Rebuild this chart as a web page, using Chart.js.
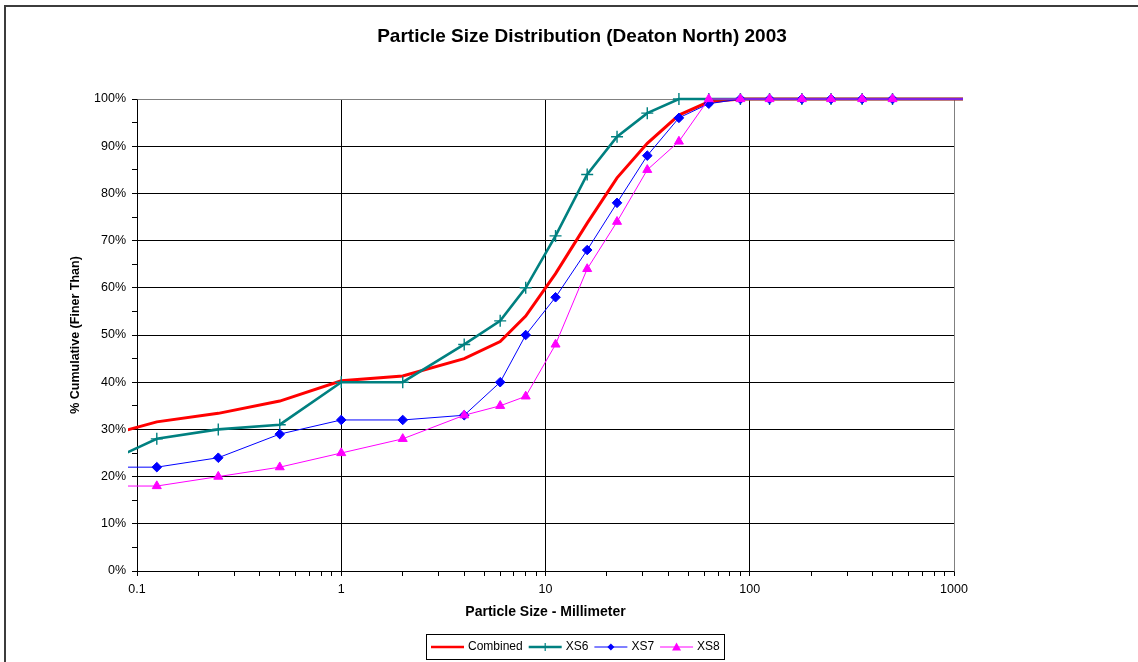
<!DOCTYPE html>
<html>
<head>
<meta charset="utf-8">
<script src="https://cdn.jsdelivr.net/npm/chart.js@4.4.1/dist/chart.umd.min.js"></script>
<style>
  html, body { margin: 0; padding: 0; background: #fff; overflow: hidden; width: 1138px; height: 662px; }
  #frame { position: absolute; left: 4px; top: 5px; width: 1142px; height: 670px;
           border-left: 2px solid #3c3c3c; border-top: 2px solid #3c3c3c; background: #fff; }
  canvas { display: block; }
</style>
</head>
<body>
<div id="frame"><canvas id="psd" width="1142" height="670"></canvas></div>
<script>
// Sieve sizes (mm) and cumulative percent finer for each sample
const sieveSizes = [0.0625, 0.125, 0.25, 0.5, 1, 2, 4, 6, 8, 11.2, 16, 22.4, 31.5, 45, 63, 90, 125, 180, 250, 355, 500, 2000];
const combined   = [28, 31.6, 33.4, 36, 40.3, 41.3, 45, 48.6, 54, 63, 73.7, 83.3, 90.6, 96.6, 99.4, 100, 100, 100, 100, 100, 100, 100];
const xs6        = [22, 28, 30, 31, 40, 40, 48, 53, 60, 71, 84, 92, 97, 100, 100, 100, 100, 100, 100, 100, 100, 100];
const xs7        = [22, 22, 24, 29, 32, 32, 33, 40, 50, 58, 68, 78, 88, 96, 99, 100, 100, 100, 100, 100, 100, 100];
const xs8        = [18, 18, 20, 22, 25, 28, 33, 35, 37, 48, 64, 74, 85, 91, 100, 100, 100, 100, 100, 100, 100, 100];

const seriesNames = ['Combined', 'XS6', 'XS7', 'XS8'];
const xTickLabels = ['0.1', '1', '10', '100', '1000'];
const yTickLabels = ['0%', '10%', '20%', '30%', '40%', '50%', '60%', '70%', '80%', '90%', '100%'];

const chartTitle = 'Particle Size Distribution (Deaton North) 2003';
const xTitle = 'Particle Size - Millimeter';
const yTitle = '% Cumulative (Finer Than)';

const FONT = '"Liberation Sans", Arial, Helvetica, sans-serif';
Chart.defaults.font.family = FONT;
Chart.defaults.color = '#000';

const toPoints = vals => sieveSizes.map((s, i) => ({ x: s, y: vals[i] }));
const isDecade = v => Math.abs(Math.log10(v) - Math.round(Math.log10(v))) < 1e-9;
const lineClip = { left: 9, right: 9, top: 8, bottom: 0 };

const datasets = [
  { label: seriesNames[0], data: toPoints(combined), borderColor: '#ff0000', backgroundColor: '#ff0000',
    borderWidth: 3, pointRadius: 0, order: 3, marker: 'none' },
  { label: seriesNames[1], data: toPoints(xs6), borderColor: '#008080', backgroundColor: '#008080',
    borderWidth: 2.6, pointStyle: 'cross', pointRadius: 6, pointBorderWidth: 1.4, order: 2, marker: 'cross' },
  { label: seriesNames[2], data: toPoints(xs7), borderColor: '#0000ff', backgroundColor: '#0000ff',
    borderWidth: 1, pointStyle: 'rectRot', pointRadius: 4.8, pointBorderWidth: 1, order: 1, marker: 'diamond' },
  { label: seriesNames[3], data: toPoints(xs8), borderColor: '#ff00ff', backgroundColor: '#ff00ff',
    borderWidth: 1, pointStyle: 'triangle', pointRadius: 5.2, pointBorderWidth: 1, order: 0, marker: 'triangle' }
];
datasets.forEach(d => { d.clip = lineClip; d.tension = 0; d.fill = false; d.pointHoverRadius = d.pointRadius; });

// small marker glyphs used in the legend samples
function drawMarker(ctx, kind, x, y, color) {
  ctx.save();
  ctx.fillStyle = color; ctx.strokeStyle = color; ctx.lineWidth = 1.2;
  ctx.beginPath();
  if (kind === 'cross') {
    ctx.moveTo(x - 4, y); ctx.lineTo(x + 4, y);
    ctx.moveTo(x, y - 4); ctx.lineTo(x, y + 4);
    ctx.stroke();
  } else if (kind === 'diamond') {
    ctx.moveTo(x, y - 3.5); ctx.lineTo(x + 3.5, y); ctx.lineTo(x, y + 3.5); ctx.lineTo(x - 3.5, y);
    ctx.closePath(); ctx.fill();
  } else if (kind === 'triangle') {
    ctx.moveTo(x, y - 4.5); ctx.lineTo(x + 4.5, y + 3.5); ctx.lineTo(x - 4.5, y + 3.5);
    ctx.closePath(); ctx.fill();
  }
  ctx.restore();
}

const decor = {
  id: 'decor',
  beforeDatasetsDraw(chart) {
    // grey plot-area frame on top and right
    const { ctx, chartArea: a } = chart;
    ctx.save();
    ctx.strokeStyle = '#808080';
    ctx.lineWidth = 1;
    ctx.beginPath();
    ctx.moveTo(Math.round(a.left) + 0.5, Math.round(a.top) + 0.5);
    ctx.lineTo(Math.round(a.right) + 0.5, Math.round(a.top) + 0.5);
    ctx.lineTo(Math.round(a.right) + 0.5, Math.round(a.bottom) + 0.5);
    ctx.stroke();
    ctx.restore();
  },
  afterDraw(chart, args, opts) {
    const { ctx } = chart;
    // title
    ctx.save();
    ctx.font = 'bold 19px ' + FONT;
    ctx.fillStyle = '#000';
    ctx.textAlign = 'center';
    ctx.textBaseline = 'middle';
    ctx.fillText(chartTitle, opts.titleX, opts.titleY);
    ctx.restore();

    // legend box with line + marker samples
    ctx.save();
    ctx.font = '12px ' + FONT;
    const sample = 33, gapText = 4, gapItem = 6, padL = 5, padR = 4;
    const ds = chart.data.datasets;
    const widths = ds.map(d => ctx.measureText(d.label).width);
    let total = padL + padR + gapItem * (ds.length - 1);
    widths.forEach(w => { total += sample + gapText + w; });
    const left = Math.round(opts.legendX - total / 2);
    const top = opts.legendY, h = opts.legendH;
    ctx.strokeStyle = '#000';
    ctx.lineWidth = 1;
    ctx.strokeRect(left + 0.5, top + 0.5, Math.round(total), h);
    const cy = top + h / 2 + 0.5;
    let x = left + padL;
    ds.forEach((d, i) => {
      ctx.strokeStyle = d.borderColor;
      ctx.lineWidth = Math.min(d.borderWidth, 2.5);
      ctx.beginPath();
      ctx.moveTo(x, cy); ctx.lineTo(x + sample, cy);
      ctx.stroke();
      drawMarker(ctx, d.marker, x + sample / 2, cy, d.borderColor);
      x += sample + gapText;
      ctx.fillStyle = '#000';
      ctx.textAlign = 'left';
      ctx.textBaseline = 'middle';
      ctx.fillText(d.label, x, cy);
      x += widths[i] + gapItem;
    });
    ctx.restore();
  }
};

new Chart(document.getElementById('psd'), {
  type: 'line',
  data: { datasets },
  plugins: [decor],
  options: {
    responsive: false,
    animation: false,
    events: [],
    layout: { padding: { left: 0, right: 194, top: 92, bottom: 56 } },
    plugins: {
      legend: { display: false },
      title: { display: false },
      tooltip: { enabled: false },
      decor: { titleX: 576, titleY: 30, legendX: 569, legendY: 627, legendH: 25 }
    },
    scales: {
      x: {
        type: 'logarithmic',
        min: 0.1,
        max: 1000,
        afterFit(s) { s.height = 50; },
        afterBuildTicks(s) {
          const t = [];
          [0.1, 1, 10, 100].forEach(d => { for (let m = 1; m < 10; m++) t.push({ value: d * m, major: m === 1 }); });
          t.push({ value: 1000, major: true });
          s.ticks = t;
        },
        ticks: {
          autoSkip: false, maxRotation: 0, minRotation: 0, padding: 6, color: '#000',
          font: { size: 12.5 },
          callback(v) { return isDecade(v) ? xTickLabels[Math.round(Math.log10(v)) + 1] : ''; }
        },
        grid: {
          color: c => (c.tick && isDecade(c.tick.value) && c.tick.value > 0.5 && c.tick.value < 500) ? '#000' : 'rgba(0,0,0,0)',
          tickColor: '#000', tickLength: 5, lineWidth: 1
        },
        border: { color: '#000', width: 1 },
        title: { display: true, text: xTitle, color: '#000', font: { size: 14, weight: 'bold' }, padding: { top: 0, bottom: 0 } }
      },
      y: {
        min: 0,
        max: 100,
        afterFit(s) { s.width = 131; },
        afterBuildTicks(s) {
          const t = [];
          for (let v = 0; v <= 100; v += 5) t.push({ value: v });
          s.ticks = t;
        },
        ticks: {
          autoSkip: false, padding: 6, color: '#000', font: { size: 12.5 },
          callback(v) { return v % 10 === 0 ? yTickLabels[v / 10] : ''; }
        },
        grid: {
          color: c => (c.tick && c.tick.value % 10 === 0 && c.tick.value > 0 && c.tick.value < 100) ? '#000' : 'rgba(0,0,0,0)',
          tickColor: '#000', tickLength: 5, lineWidth: 1
        },
        border: { color: '#000', width: 1 },
        title: { display: true, text: yTitle, color: '#000', font: { size: 12.5, weight: 'bold' }, padding: { top: 62, bottom: 0 } }
      }
    }
  }
});
</script>
</body>
</html>
